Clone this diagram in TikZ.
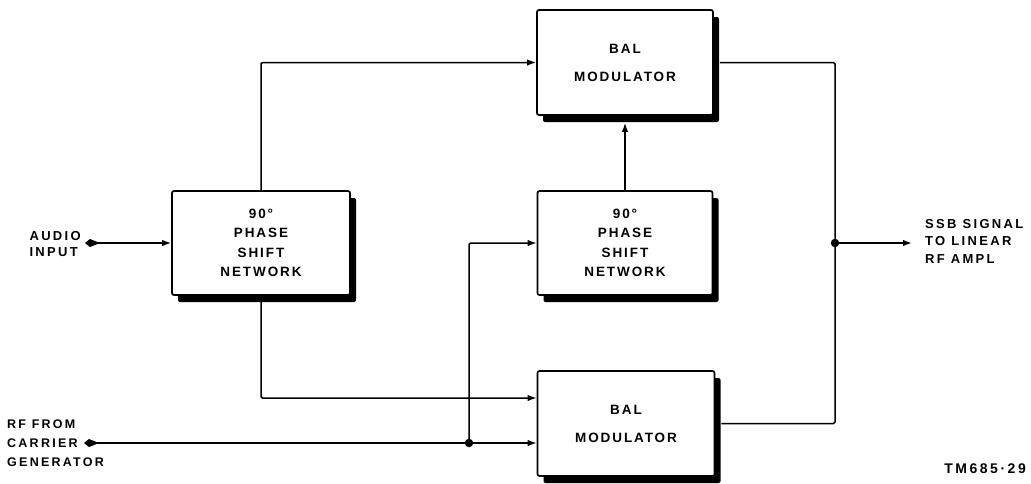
\documentclass[tikz,border=0pt]{standalone}
\usepackage{fontspec}
\setmainfont{Liberation Sans}[LetterSpace=14]
\newfontfamily\lblfont{Liberation Sans}[LetterSpace=18]
\usetikzlibrary{arrows.meta,shadows,calc}
\begin{document}
\begin{tikzpicture}[x=1pt,y=-1pt,
  blk/.style={draw,line width=1.7pt,fill=white,rounded corners=2pt,align=center,inner sep=0pt,
    drop shadow={shadow xshift=6pt,shadow yshift=-7pt,fill=black,opacity=1},
    font=\fontsize{13.5}{19.5}\selectfont\bfseries},
  modtxt/.style={font=\fontsize{13.5}{28}\selectfont\bfseries},
  wire/.style={line width=1.5pt,rounded corners=1.5pt},
  arr/.style={wire,-{Latex[length=9pt,width=6.5pt]}},
  kitearr/.style={wire,{Kite[length=15pt,width=8pt,inset=10pt]}-{Latex[length=9pt,width=6.5pt]}},
  jdot/.style={circle,fill=black,inner sep=0pt,minimum size=8.5pt},
  lbl/.style={font=\lblfont\fontsize{13}{16.5}\selectfont\bfseries,align=left,inner sep=0pt}]
\useasboundingbox (0,0) rectangle (1031,483);
% blocks
\node[blk,minimum width=178pt,minimum height=104pt] (psL) at (261,243) {90°\\PHASE\\SHIFT\\NETWORK};
\node[blk,modtxt,minimum width=176pt,minimum height=105pt] (modT) at (625,62.5) {BAL\\MODULATOR};
\node[blk,minimum width=175pt,minimum height=104pt] (psM) at (625,243) {90°\\PHASE\\SHIFT\\NETWORK};
\node[blk,modtxt,minimum width=177pt,minimum height=105pt] (modB) at (626,423.5) {BAL\\MODULATOR};
% labels
\node[lbl,anchor=east] (ain) at (81,244) {AUDIO\\INPUT};
\node[lbl,anchor=west,font=\lblfont\fontsize{12.5}{19}\selectfont\bfseries] (rf) at (7,443) {RF FROM\\CARRIER\\GENERATOR};
\node[lbl,anchor=west,font=\lblfont\fontsize{13}{17.5}\selectfont\bfseries] (ssb) at (925,241) {SSB SIGNAL\\TO LINEAR\\RF AMPL};
\node[lbl,anchor=east,font=\lblfont\fontsize{14}{16}\selectfont\bfseries] (tm) at (1026,469) {TM685·29};
% coordinates
\coordinate (ainS) at (85,243);
\coordinate (rfS) at (84,443);
\coordinate (jB) at (469,443);
\coordinate (jR) at (835,243);
\coordinate (outE) at (912,243);
\coordinate (inB1) at ($(modB.west)+(0,-25.5)$);
% connectors
\draw[kitearr] (ainS) -- (psL.west);
\draw[arr] (psL.north) |- (modT.west);
\draw[arr] (psL.south) |- (inB1);
\draw[kitearr] (rfS) -- (modB.west |- jB);
\draw[arr] (jB) |- (psM.west);
\draw[arr] (psM.north) -- ([yshift=-7pt]modT.south);
\draw[wire] ([xshift=6pt]modT.east) -| (jR) |- ([xshift=6pt]modB.east);
\draw[arr] (jR) -- (outE);
\node[jdot] at (jB) {};
\node[jdot] at (jR) {};
\end{tikzpicture}
\end{document}
